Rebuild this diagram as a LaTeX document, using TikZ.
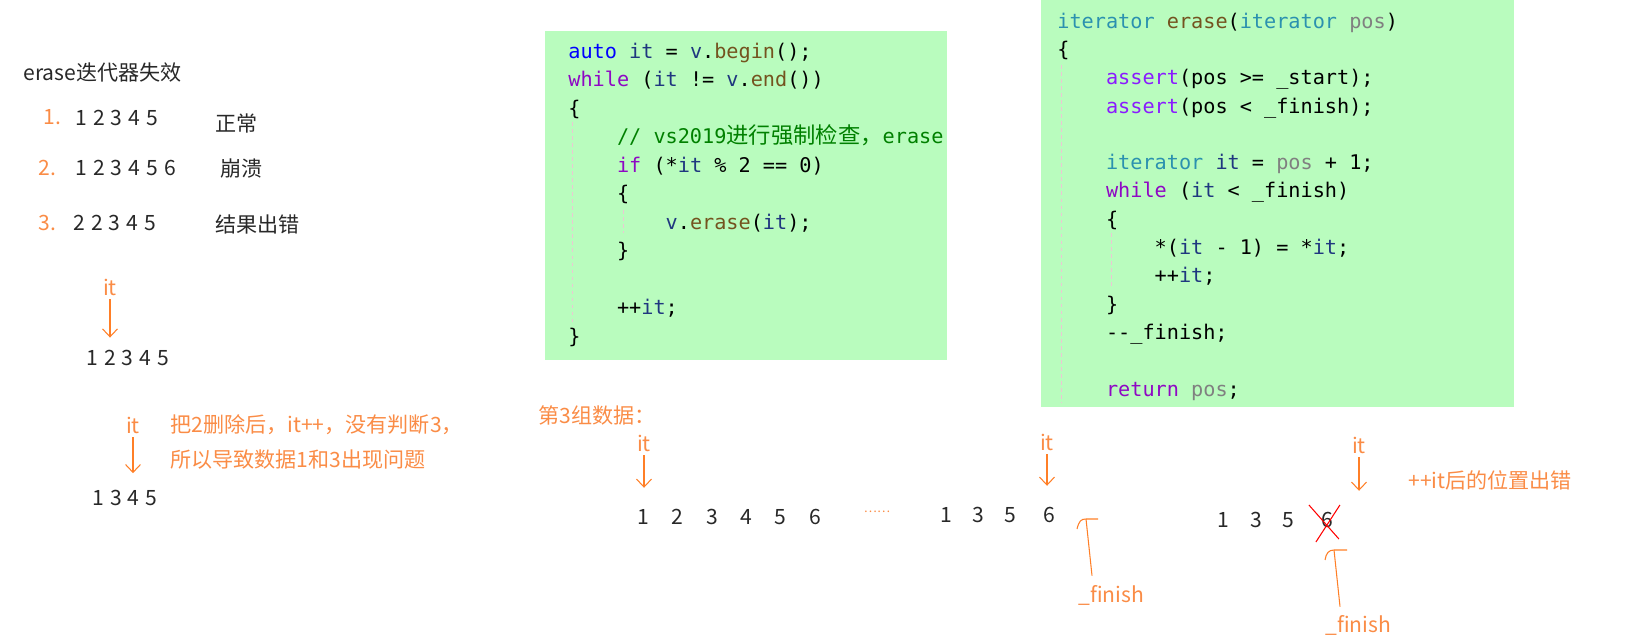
\documentclass[tikz,border=0pt]{standalone}
\usepackage{fontspec}
\setmainfont{Noto Sans CJK SC}
\setmonofont{DejaVu Sans Mono}
\newfontfamily\cjk{Noto Sans CJK SC}
\usetikzlibrary{arrows.meta,calc}

\definecolor{codebg}{RGB}{185,252,190}
\definecolor{penorange}{RGB}{255,127,39}
\definecolor{noteorange}{RGB}{250,140,70}
\definecolor{guide}{RGB}{235,200,210}
\definecolor{ink}{RGB}{40,40,40}
\definecolor{vsblue}{RGB}{0,0,255}
\definecolor{vsctl}{RGB}{143,8,196}
\definecolor{vsmac}{RGB}{138,27,255}
\definecolor{vsvar}{RGB}{31,55,127}
\definecolor{vsfun}{RGB}{116,83,31}
\definecolor{vstyp}{RGB}{43,145,175}
\definecolor{vspar}{RGB}{128,128,128}
\definecolor{vscom}{RGB}{0,128,0}

\newcommand\cKey[1]{\textcolor{vsblue}{#1}}
\newcommand\cCtl[1]{\textcolor{vsctl}{#1}}
\newcommand\cMac[1]{\textcolor{vsmac}{#1}}
\newcommand\cVar[1]{\textcolor{vsvar}{#1}}
\newcommand\cFun[1]{\textcolor{vsfun}{#1}}
\newcommand\cTyp[1]{\textcolor{vstyp}{#1}}
\newcommand\cPar[1]{\textcolor{vspar}{#1}}
\newcommand\cCom[1]{\textcolor{vscom}{#1}}
\newcommand\indt{\hphantom{0000}}
\newcommand\digitgap{\spaceskip 3.45pt\relax}

\tikzset{
  txt/.style={inner sep=0pt, text=ink, font=\fontsize{12}{14}\selectfont},
  digits/.style={txt, font={\fontsize{12}{14}\selectfont\digitgap}},
  note/.style={inner sep=0pt, text=noteorange, font=\fontsize{12}{14}\selectfont},
  code/.style={inner sep=0pt, align=left, font=\ttfamily\fontsize{11.5}{16.2}\selectfont},
  pen/.style={draw=penorange, line width=0.6pt},
  itarrow/.style={pen, -{Straight Barb[length=4.5pt,width=8.5pt]}, shorten <=2pt},
  guideline/.style={draw=guide, line width=0.5pt, dash pattern=on 2pt off 2pt},
  cross/.style={draw=red, line width=0.6pt},
}

\begin{document}
\begin{tikzpicture}[x=0.02cm,y=-0.02cm]
\useasboundingbox (0,0) rectangle (1645,638);

% the three test cases
\node[txt, anchor=west] (title) at (23,73) {erase迭代器失效};
\node[note, anchor=west] (k1) at (43,117) {1.};
\node[digits, anchor=west] (case1) at (75,118) {1 2 3 4 5};
\node[txt, anchor=west] (res1) at (215,123) {正常};
\node[note, anchor=west] (k2) at (38,168) {2.};
\node[digits, anchor=west] (case2) at (75,168) {1 2 3 4 5 6};
\node[txt, anchor=west] (res2) at (220,169) {崩溃};
\node[note, anchor=west] (k3) at (38,223) {3.};
\node[digits, anchor=west] (case3) at (73,223) {2 2 3 4 5};
\node[txt, anchor=west] (res3) at (215,224) {结果出错};

% case 2
\node[note] (it1) at (110,287) {it};
\node[digits, anchor=west] (row1) at (86,358) {1 2 3 4 5};
\draw[itarrow, shorten >=7pt] (it1.south) -- (it1.south |- row1.north);

\node[note] (it2) at (133,425) {it};
\node[note, anchor=west] (why1) at (170,425) {把2删除后，it++，没有判断3，};
\node[note, anchor=west] (why2) at (170,460) {所以导致数据1和3出现问题};
\node[digits, anchor=west] (row2) at (92,498) {1 3 4 5};
\draw[itarrow, shorten >=9.5pt] (it2.south) -- (it2.south |- row2.north);

% the loop
\fill[codebg] (545,31) rectangle (947,360);
\draw[guideline] (572,122) -- (572,322);
\draw[guideline] (623,210) -- (623,233);
\begin{scope}
  \clip (545,31) rectangle (947,360);
  \node[code, anchor=base west] (loop) at (568,343) {%
\cKey{auto} \cVar{it} = \cVar{v}.\cFun{begin}();\\
\cCtl{while} (\cVar{it} != \cVar{v}.\cFun{end}())\\
\{\\
\indt\cCom{// vs2019{\cjk\fontsize{12.7}{16.2}\selectfont 进行强制检查，}erase}\\
\indt\cCtl{if} (*\cVar{it} \% 2 == 0)\\
\indt\{\\
\indt\indt\cVar{v}.\cFun{erase}(\cVar{it});\\
\indt\}\\
\mbox{}\\
\indt++\cVar{it};\\
\}};
\end{scope}

% erase itself
\fill[codebg] (1041,0) rectangle (1514,407);
\draw[guideline] (1061,65) -- (1061,403);
\draw[guideline] (1111,233) -- (1111,287);
\node[code, font=\ttfamily\fontsize{11.5}{16.1}\selectfont, anchor=base west] (erase) at (1057,396) {%
\cTyp{iterator} \cFun{erase}(\cTyp{iterator} \cPar{pos})\\
\{\\
\indt\cMac{assert}(pos >= \_start);\\
\indt\cMac{assert}(pos < \_finish);\\
\mbox{}\\
\indt\cTyp{iterator} \cVar{it} = \cPar{pos} + 1;\\
\indt\cCtl{while} (\cVar{it} < \_finish)\\
\indt\{\\
\indt\indt*(\cVar{it} - 1) = *\cVar{it};\\
\indt\indt++\cVar{it};\\
\indt\}\\
\indt-{}-\_finish;\\
\mbox{}\\
\indt\cCtl{return} \cPar{pos};};

% case 3
\node[note, anchor=west] (set3) at (538,415) {第3组数据：};
\node[note] (it3) at (644,443) {it};
\node[txt, anchor=west] (row3) at (637,517) {1\hspace{12.9pt}2\hspace{12.9pt}3\hspace{12.9pt}4\hspace{12.9pt}5\hspace{12.9pt}6};
\draw[itarrow, shorten >=12pt] (it3.south) -- (it3.south |- row3.north);

\node[note, font=\fontsize{7}{8}\selectfont] (dots) at (877,512) {……};

\node[txt, anchor=west] (row4) at (940,515) {1\hspace{11.5pt}3\hspace{11.5pt}5\hspace{15.5pt}6};
\node[note] (it4) at (1047,442) {it};
\draw[itarrow, shorten >=12pt] (it4.south) -- (it4.south |- row4.north);

\node[note, anchor=base west] (fin1) at (1078,602) {\_finish};
\coordinate (tip1) at (1086,519);
\draw[pen] ($(fin1.north west)+(14,-9)$) -- (tip1);
\draw[pen] (1077,529) .. controls (1079,521) and (1081,519) .. (tip1) -- (1098,519);

\node[txt, anchor=west] (row5) at (1217,520) {1\hspace{12pt}3\hspace{11.5pt}5\hspace{16pt}6};
\draw[cross] ($(row5.east)+(-25,-15)$) -- ($(row5.east)+(5,19)$);
\draw[cross] ($(row5.east)+(6,-15)$) -- ($(row5.east)+(-18,22)$);
\node[note] (it5) at (1359,445) {it};
\draw[itarrow, shorten >=12pt] (it5.south) -- (it5.south |- row5.north);
\node[note, anchor=west] (msg) at (1408,480) {++it后的位置出错};

\node[note, anchor=base west] (fin2) at (1325,632) {\_finish};
\coordinate (tip2) at (1334,550);
\draw[pen] ($(fin2.north west)+(15,-8)$) -- (tip2);
\draw[pen] (1325,560) .. controls (1326,553) and (1329,550) .. (tip2) -- (1347,550);
\end{tikzpicture}
\end{document}
